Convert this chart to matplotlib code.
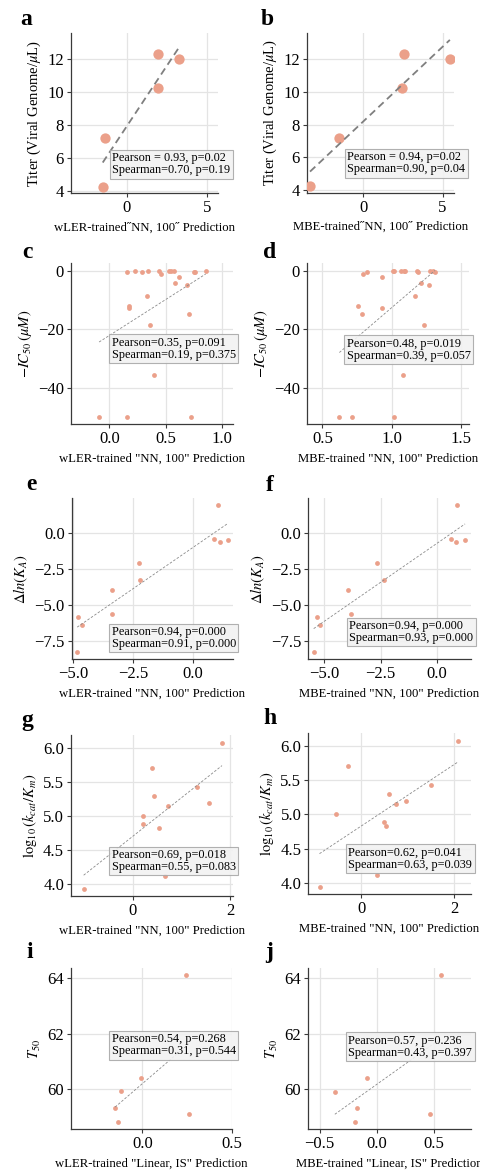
import numpy as np
import matplotlib
matplotlib.use("Agg")
import matplotlib.pyplot as plt

plt.rcParams.update({
    "font.family": ["Liberation Serif", "DejaVu Serif"],
    "mathtext.fontset": "stix",
    "axes.unicode_minus": True,
})

W, H = 481, 1172
DOT = "#EBA08A"
BOX_FC = "#f2f2f2"
BOX_EC = "#a8a8a8"
GRID = "#e4e4e4"
Q = "\u02dd"

# ---- data -------------------------------------------------------------
a_x = [1.94, 3.27, 1.94, -1.33, -1.49]
a_y = [12.28, 11.96, 10.24, 7.18, 4.26]
b_x = [-3.36, -1.55, 2.42, 2.56, 5.46]
b_y = [4.27, 7.21, 10.24, 12.28, 11.96]

c_x = [0.16, 0.225, 0.287, 0.343, 0.444, 0.459, 0.527, 0.55, 0.571, 0.754,
       0.76, 0.855, 0.58, 0.618, 0.692, 0.335, 0.178, 0.178, 0.71, 0.358,
       0.394, -0.091, 0.154, 0.722]
c_y = [-0.45, 0, -0.3, 0, 0, -0.9, 0, 0, 0, -0.45, -0.3, 0, -4.2, -2.05,
       -4.8, -8.55, -11.97, -12.5, -14.6, -18.4, -35.6, -50, -50, -50]
d_x = [0.796, 0.825, 0.929, 1.009, 1.018, 1.069, 1.09, 1.1, 1.182, 1.191,
       1.28, 1.298, 1.314, 1.213, 1.273, 1.172, 0.755, 0.787, 0.934, 1.235,
       1.081, 0.623, 0.715, 1.018]
d_y = [-1.03, -0.45, -2.05, 0, 0, 0, 0, -0.2, 0, -0.45, 0, 0, -0.45, -4.3,
       -4.8, -8.55, -11.97, -14.6, -12.5, -18.4, -35.6, -50, -50, -50]

e_x = [1.05, 0.90, 1.13, 1.46, -2.23, -2.19, -3.38, -3.39, -4.81, -4.63, -4.84]
e_y = [1.94, -0.42, -0.65, -0.46, -2.1, -3.29, -3.98, -5.65, -5.83, -6.37, -8.24]
f_x = [0.89, 0.64, 0.87, 1.26, -2.64, -2.33, -3.93, -3.79, -5.32, -5.2, -5.47]
f_y = e_y

g_x = [1.83, 0.40, 1.31, 0.44, 1.57, 0.72, 0.20, 0.20, 0.53, 0.66, -1.01]
g_y = [6.08, 5.71, 5.43, 5.30, 5.20, 5.15, 5.00, 4.89, 4.83, 4.12, 3.93]
h_x = [2.08, -0.28, 1.51, 0.60, 0.96, 0.74, -0.53, 0.50, 0.54, 0.34, -0.89]
h_y = g_y

i_x = [0.245, -0.006, -0.121, -0.153, -0.138, 0.263]
i_y = [64.11, 60.41, 59.92, 59.32, 58.81, 59.11]
j_x = [0.556, -0.09, -0.368, -0.172, -0.196, 0.468]
j_y = i_y

stats = {
    "a": "Pearson = 0.93, p=0.02\nSpearman=0.70, p=0.19",
    "b": "Pearson = 0.94, p=0.02\nSpearman=0.90, p=0.04",
    "c": "Pearson=0.35, p=0.091\nSpearman=0.19, p=0.375",
    "d": "Pearson=0.48, p=0.019\nSpearman=0.39, p=0.057",
    "e": "Pearson=0.94, p=0.000\nSpearman=0.91, p=0.000",
    "f": "Pearson=0.94, p=0.000\nSpearman=0.93, p=0.000",
    "g": "Pearson=0.69, p=0.018\nSpearman=0.55, p=0.083",
    "h": "Pearson=0.62, p=0.041\nSpearman=0.63, p=0.039",
    "i": "Pearson=0.54, p=0.268\nSpearman=0.31, p=0.544",
    "j": "Pearson=0.57, p=0.236\nSpearman=0.43, p=0.397",
}

nn_w = f'wLER-trained{Q}NN, 100{Q} Prediction'
nn_m = f'MBE-trained{Q}NN, 100{Q} Prediction'
nn2_w = 'wLER-trained "NN, 100" Prediction'
nn2_m = 'MBE-trained "NN, 100" Prediction'
lin_w = 'wLER-trained "Linear, IS" Prediction'
lin_m = 'MBE-trained "Linear, IS" Prediction'

y_titer = r'Titer (Viral Genome/$\mu$L)'
y_ic50 = r'$-IC_{50}\,(\mu M)$'
y_ka = r'$\Delta ln(K_A)$'
y_kcat = r'$\log_{10}(k_{cat}/K_m)$'
y_t50 = r'$T_{50}$'

# letter, x, y, xlabel, ylabel, xlim, ylim, xticks, yticks,
# axes box in px (left, right, top, bottom), letter pos, stats box pos, big
panels = [
    ("a", a_x, a_y, nn_w, y_titer, (-3.48, 5.69), (3.86, 13.56), [0, 5],
     [4, 6, 8, 10, 12], (70.7, 218.3, 33, 193.3), (20, 25), (0.28, 0.105), True),
    ("b", b_x, b_y, nn_m, y_titer, (-3.57, 5.72), (3.86, 13.56), [0, 5],
     [4, 6, 8, 10, 12], (306.7, 454, 33, 192.7), (261, 25), (0.276, 0.11), True),
    ("c", c_x, c_y, nn2_w, y_ic50, (-0.343, 1.10), (-52.4, 2.6), [0, 0.5, 1.0],
     [0, -20, -40], (70.7, 233.3, 263.3, 424.3), (22.7, 258.3), (0.252, 0.395), False),
    ("d", d_x, d_y, nn2_m, y_ic50, (0.387, 1.562), (-52.4, 2.6), [0.5, 1.0, 1.5],
     [0, -20, -40], (306.7, 469.3, 263.3, 424.3), (263.3, 258.3), (0.246, 0.39), False),
    ("e", e_x, e_y, nn2_w, y_ka, (-5.07, 1.69), (-8.77, 2.41), [-5, -2.5, 0],
     [0, -2.5, -5, -7.5], (71.7, 233, 498.3, 659.3), (26, 490), (0.248, 0.058), False),
    ("f", f_x, f_y, nn2_m, y_ka, (-5.71, 1.51), (-8.77, 2.41), [-5, -2.5, 0],
     [0, -2.5, -5, -7.5], (308.3, 470.7, 498.3, 659.3), (266, 490.7), (0.252, 0.095), False),
    ("g", g_x, g_y, nn2_w, y_kcat, (-1.27, 2.05), (3.83, 6.19), [0, 2],
     [4.0, 4.5, 5.0, 5.5, 6.0], (71, 232.7, 735, 896), (21.7, 726), (0.252, 0.143), False),
    ("h", h_x, h_y, nn2_m, y_kcat, (-1.13, 2.35), (3.83, 6.19), [0, 2],
     [4.0, 4.5, 5.0, 5.5, 6.0], (308.3, 470.7, 733.3, 894.3), (263.3, 724), (0.246, 0.147), False),
    ("i", i_x, i_y, lin_w, y_t50, (-0.40, 0.504), (58.56, 64.36), [0, 0.5],
     [60, 62, 64], (71, 232.3, 968.3, 1129), (26, 958.3), (0.252, 0.447), False),
    ("j", j_x, j_y, lin_m, y_t50, (-0.60, 0.82), (58.56, 64.36), [-0.5, 0, 0.5],
     [60, 62, 64], (308.3, 470.7, 968.3, 1129.3), (265, 958.3), (0.246, 0.437), False),
]

fig = plt.figure(figsize=(W / 100, H / 100), dpi=100)

for (lab, xs, ys, xl, yl, xlim, ylim, xt, yt, box, lpos, spos, big) in panels:
    l, r, t, b = box
    ax = fig.add_axes([l / W, 1 - b / H, (r - l) / W, (b - t) / H])
    xs = np.asarray(xs, float)
    ys = np.asarray(ys, float)

    ax.scatter(xs, ys, s=55 if big else 12, color=DOT, linewidths=0, zorder=3)

    # least-squares fit over the data range
    k, c0 = np.polyfit(xs, ys, 1)
    xx = np.array([xs.min(), xs.max()])
    if big:
        ax.plot(xx, k * xx + c0, ls=(0, (4, 2.5)), color="#7f7f7f", lw=1.3, zorder=4)
    else:
        ax.plot(xx, k * xx + c0, ls=(0, (3, 2)), color="#8a8a8a", lw=0.6, zorder=4)

    ax.text(spos[0], spos[1], stats[lab], transform=ax.transAxes, fontsize=8.8,
            ha="left", va="bottom", linespacing=1.0, zorder=5,
            bbox=dict(boxstyle="square,pad=0.2", fc=BOX_FC, ec=BOX_EC, lw=0.8,
                      alpha=0.9))

    ax.set_xlim(*xlim)
    ax.set_ylim(*ylim)
    ax.set_xticks(xt)
    ax.set_yticks(yt)
    ax.grid(True, color=GRID, lw=0.9)
    ax.set_axisbelow(True)
    for side in ("top", "right"):
        ax.spines[side].set_visible(False)
    for side in ("left", "bottom"):
        ax.spines[side].set_color("#3a3a3a")
        ax.spines[side].set_linewidth(0.9)
    ax.tick_params(labelsize=12, length=3, width=0.8, color="#3a3a3a", pad=2)
    ax.set_xlabel(xl, fontsize=9.2, labelpad=4)
    ax.set_ylabel(yl, fontsize=10.5, labelpad=3)

    fig.text(lpos[0] / W, 1 - lpos[1] / H, lab, fontsize=17, fontweight="bold",
             ha="left", va="baseline")

fig.savefig("out.png", dpi=100)
plt.close(fig)
